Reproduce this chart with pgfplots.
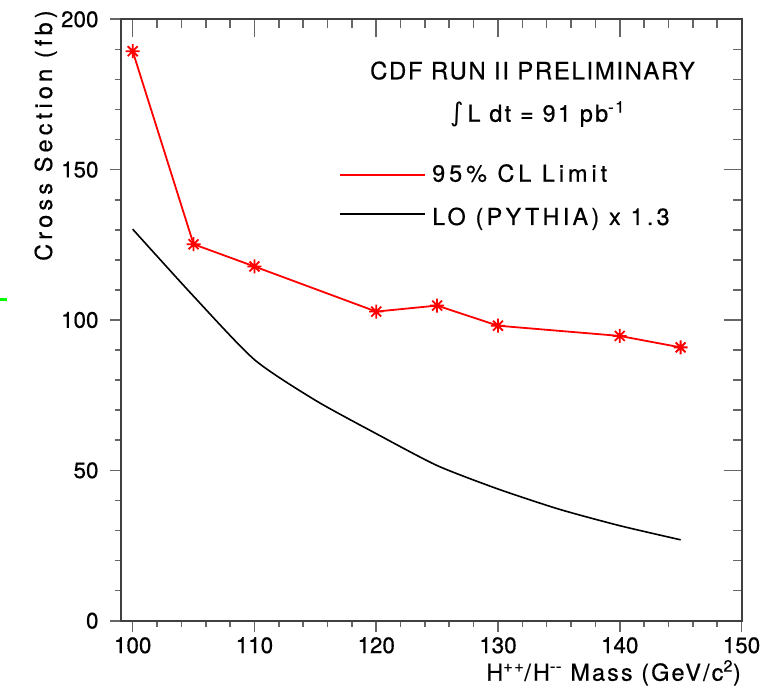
\documentclass[border=0pt]{standalone}
\usepackage{pgfplots}
\pgfplotsset{compat=1.18}
\usepackage{fontspec}
\setmainfont{TeX Gyre Heros}[FakeBold=0.5]
\newfontfamily\dejavu{DejaVu Sans}
\definecolor{axisgray}{gray}{0.25}
\definecolor{tickgray}{gray}{0.4}
\pgfdeclareplotmark{star8}{%
  \pgfpathmoveto{\pgfqpoint{0pt}{\pgfplotmarksize}}\pgfpathlineto{\pgfqpoint{0pt}{-\pgfplotmarksize}}%
  \pgfpathmoveto{\pgfqpoint{\pgfplotmarksize}{0pt}}\pgfpathlineto{\pgfqpoint{-\pgfplotmarksize}{0pt}}%
  \pgfpathmoveto{\pgfqpoint{0.707\pgfplotmarksize}{0.707\pgfplotmarksize}}\pgfpathlineto{\pgfqpoint{-0.707\pgfplotmarksize}{-0.707\pgfplotmarksize}}%
  \pgfpathmoveto{\pgfqpoint{0.707\pgfplotmarksize}{-0.707\pgfplotmarksize}}\pgfpathlineto{\pgfqpoint{-0.707\pgfplotmarksize}{0.707\pgfplotmarksize}}%
  \pgfusepathqstroke}
\begin{document}
\begin{tikzpicture}
\useasboundingbox (-121bp,-66.3bp) rectangle (662bp,620.7bp);
\begin{axis}[
  at={(0,0)}, anchor=origin,
  scale only axis, width=620.5bp, height=601.4bp,
  xmin=99.04, xmax=150, ymin=0, ymax=200,
  xtick={100,110,...,150}, ytick={0,50,...,200},
  minor x tick num=4, minor y tick num=4,
  xtick pos=bottom, ytick pos=left,
  tick align=outside,
  major tick length=11bp, minor tick length=6bp,
  every tick/.style={tickgray, line width=1.6bp},
  axis line style={axisgray, line width=2bp},
  /pgf/number format/assume math mode=true,
  ticklabel style={font=\fontsize{22.5}{27}\selectfont},
  xticklabel style={anchor=north, yshift=-2bp},
  yticklabel style={anchor=east, xshift=-8bp},
  clip=false,
]
\addplot[black, line width=1.6bp, smooth, tension=0.4] coordinates {
  (100,130.2) (105,107.9) (110,86.8) (115,73.3) (120,62.2)
  (125,51.6) (130,43.8) (135,37.1) (140,31.6) (145,26.9)};
\addplot[red, line width=1.8bp, mark=star8, mark size=7bp,
  mark options={line width=1.8bp}] coordinates {
  (100,189.4) (105,125.2) (110,117.8) (120,102.8) (125,104.8)
  (130,98.1) (140,94.7) (145,90.9)};
\end{axis}
\begin{axis}[
  at={(0,0)}, anchor=origin,
  scale only axis, width=620.5bp, height=601.4bp,
  xmin=99.04, xmax=150, ymin=0, ymax=200,
  xtick={100,110,...,150}, ytick={0,50,...,200},
  minor x tick num=4, minor y tick num=4,
  xtick pos=top, ytick pos=right,
  tick align=inside,
  major tick length=18bp, minor tick length=9bp,
  every tick/.style={tickgray, line width=1.6bp},
  axis line style={axisgray, line width=2bp},
  xticklabels={}, yticklabels={},
]
\end{axis}
% labels
\node[rotate=90, anchor=base east, inner sep=0pt,
  font=\fontsize{23.5}{28}\selectfont\addfontfeatures{LetterSpace=18}]
  at (-69bp,610.5bp) {Cross Section (fb)};
\node[anchor=base east, inner sep=0pt,
  font=\fontsize{23.5}{28}\selectfont\addfontfeatures{LetterSpace=9}]
  at (620bp,-60bp) {H\textsuperscript{++}/H\textsuperscript{-\kern0.5pt-} Mass (GeV/c\textsuperscript{2})};
\node[anchor=base, inner sep=0pt,
  font=\fontsize{24}{28}\selectfont\addfontfeatures{LetterSpace=7}]
  at (411.5bp,541.4bp) {CDF RUN II PRELIMINARY};
\node[anchor=base, inner sep=0pt,
  font=\fontsize{23.5}{28}\selectfont\addfontfeatures{LetterSpace=10}]
  at (416.5bp,499bp) {{\dejavu\fontsize{26}{28}\selectfont\textit{∫}}\,L dt = 91 pb\textsuperscript{-1}};
\draw[red, line width=1.6bp] (219bp,445.7bp) -- (304bp,445.7bp);
\draw[black, line width=1.6bp] (219bp,406.7bp) -- (304bp,406.7bp);
\node[anchor=base west, inner sep=0pt,
  font=\fontsize{23.5}{28}\selectfont\addfontfeatures{LetterSpace=17}]
  at (311bp,439bp) {95\% CL Limit};
\node[anchor=base west, inner sep=0pt,
  font=\fontsize{23.5}{28}\selectfont\addfontfeatures{LetterSpace=14}]
  at (311bp,395.7bp) {LO (PYTHIA) x 1.3};
\fill[green] (-121bp,319.2bp) rectangle (-114bp,322.2bp);
\end{tikzpicture}
\end{document}
